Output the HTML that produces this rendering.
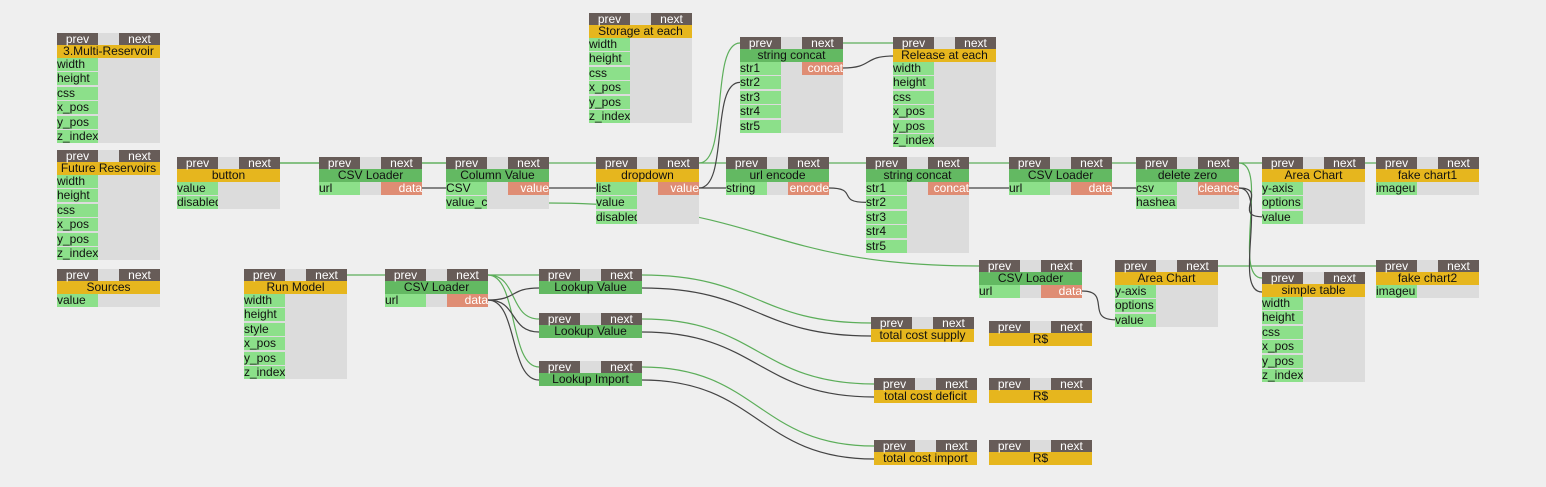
<!DOCTYPE html>
<html><head><meta charset="utf-8"><style>
body{margin:0;width:1546px;height:487px;background:#efefef;overflow:hidden;position:relative;font-family:"Liberation Sans",sans-serif;font-size:12px;}
.n{position:absolute;width:103px;}
.h{position:relative;height:12px;background:#dcdcdc;}
.h span{position:absolute;top:0;width:41px;height:12px;background:#675c58;color:#fff;text-align:center;line-height:12px;font-size:12px;}
.t{height:13px;line-height:13px;text-align:center;color:#111;white-space:nowrap;overflow:hidden;font-size:12px;}
.o{background:#e6b61e}.g{background:#63b962}
.b{background:#dcdcdc;position:relative;}
.r{height:13px;margin-bottom:1.4px;line-height:13px;position:relative;}
.r .i{position:absolute;left:0;width:41px;height:13px;background:#8ce08a;color:#111;overflow:hidden;white-space:nowrap;}
.r .x{position:absolute;right:0;width:41px;height:13px;background:#df8d74;color:#fff;text-align:right;overflow:hidden;white-space:nowrap;}
svg{position:absolute;left:0;top:0;}
</style></head><body>
<svg width="1546" height="487" id="s"></svg>
<div id="c"></div>
<script>
var N=[
[57,33,'o','3.Multi-Reservoir',['width','height','css','x_pos','y_pos','z_index']],
[57,150,'o','Future Reservoirs',['width','height','css','x_pos','y_pos','z_index']],
[57,269,'o','Sources',['value']],
[177,157,'o','button',['value','disabled']],
[319,157,'g','CSV Loader',['url'],'data'],
[446,157,'g','Column Value',['CSV','value_c'],'value'],
[589,13,'o','Storage at each',['width','height','css','x_pos','y_pos','z_index']],
[596,157,'o','dropdown',['list','value','disabled'],'value'],
[740,37,'g','string concat',['str1','str2','str3','str4','str5'],'concat'],
[893,37,'o','Release at each',['width','height','css','x_pos','y_pos','z_index']],
[726,157,'g','url encode',['string'],'encode'],
[866,157,'g','string concat',['str1','str2','str3','str4','str5'],'concat'],
[1009,157,'g','CSV Loader',['url'],'data'],
[1136,157,'g','delete zero',['csv','hashea'],'cleancs'],
[1262,157,'o','Area Chart',['y-axis','options','value']],
[1376,157,'o','fake chart1',['imageu']],
[979,260,'g','CSV Loader',['url'],'data'],
[1115,260,'o','Area Chart',['y-axis','options','value']],
[1262,272,'o','simple table',['width','height','css','x_pos','y_pos','z_index']],
[1376,260,'o','fake chart2',['imageu']],
[244,269,'o','Run Model',['width','height','style','x_pos','y_pos','z_index']],
[385,269,'g','CSV Loader',['url'],'data'],
[539,269,'g','Lookup Value',[]],
[539,313,'g','Lookup Value',[]],
[539,361,'g','Lookup Import',[]],
[871,317,'o','total cost supply',[]],
[874,378,'o','total cost deficit',[]],
[874,440,'o','total cost import',[]],
[989,321,'o','R$',[]],[989,378,'o','R$',[]],[989,440,'o','R$',[]]
];
var h='';
N.forEach(function(n){
 h+='<div class="n" style="left:'+n[0]+'px;top:'+n[1]+'px"><div class="h"><span style="left:0">prev</span><span style="right:0">next</span></div><div class="t '+n[2]+'">'+n[3]+'</div>';
 if(n[4].length){h+='<div class="b">';n[4].forEach(function(r,i){h+='<div class="r"><div class="i">'+r+'</div>'+(i==0&&n[5]?'<div class="x">'+n[5]+'</div>':'')+'</div>';});h+='</div>';}
 h+='</div>';
});
document.getElementById('c').innerHTML=h;
function nx(i){return [N[i][0]+103,N[i][1]+6]}
function pv(i){return [N[i][0],N[i][1]+6]}
function out(i){return [N[i][0]+103,N[i][1]+31]}
function inp(i,k){return [N[i][0],N[i][1]+31+k*14.4]}
function tt(i){return [N[i][0],N[i][1]+19]}
function tr(i){return [N[i][0]+103,N[i][1]+19]}
var G=[[3,4],[3,5],[4,5],[5,7],[7,8],[8,9],[7,10],[10,11],[11,12],[12,13],[13,14],[14,15],[13,18],[17,19],[20,21],[21,22],[21,23],[21,24],[22,25],[23,26],[24,27]];
var D=[[out(4),inp(5,0)],[out(5),inp(7,0)],[out(7),inp(10,0)],[out(7),inp(8,1)],[out(8),tt(9)],[out(10),inp(11,1)],[out(11),inp(12,0)],[out(12),inp(13,0)],[out(13),inp(14,2)],[out(13),[1262,292]],[out(16),inp(17,2)],[out(21),tt(22)],[out(21),tt(23)],[out(21),tt(24)],[tr(22),tt(25)],[tr(23),tt(26)],[tr(24),tt(27)]];
var s='';
function p(a,b,c){var dx=Math.max(30,Math.abs(b[0]-a[0])/2);s+='<path d="M'+a[0]+' '+a[1]+' C'+(a[0]+dx)+' '+a[1]+' '+(b[0]-dx)+' '+b[1]+' '+b[0]+' '+b[1]+'" stroke="'+c+'" stroke-width="1.2" fill="none"/>';}
G.forEach(function(e){p(nx(e[0]),pv(e[1]),'#5cae5a')});
p([548,203],pv(16),'#5cae5a');
D.forEach(function(e){p(e[0],e[1],'#444')});
document.getElementById('s').innerHTML=s;
</script>
</body></html>
